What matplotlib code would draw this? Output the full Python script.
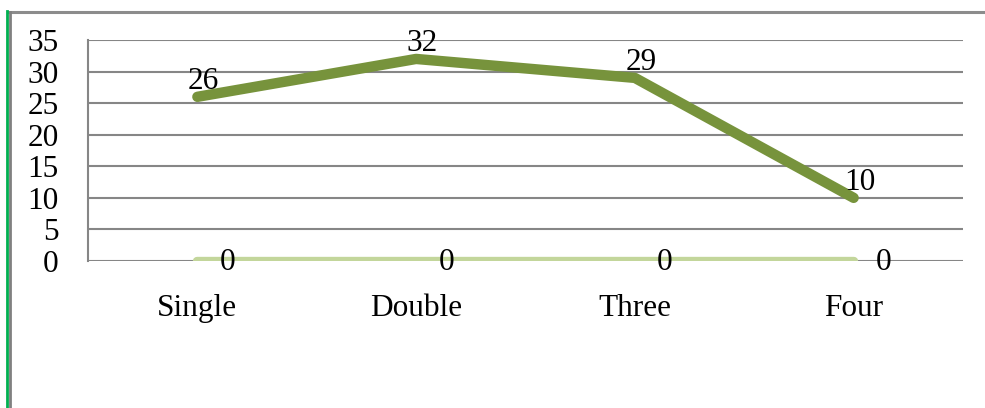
import matplotlib
matplotlib.use("Agg")
import matplotlib.pyplot as plt
from matplotlib.lines import Line2D

categories = ["Single", "Double", "Three", "Four"]
series_main = [26, 32, 29, 10]
series_zero = [0, 0, 0, 0]
y_ticks = [0, 5, 10, 15, 20, 25, 30, 35]

plt.rcParams["font.family"] = ["Liberation Serif", "DejaVu Serif"]

W, H = 985, 408
fig = plt.figure(figsize=(W / 100, H / 100), dpi=100)
ax = fig.add_axes([88 / W, 1 - 261 / H, (963 - 88) / W, (261 - 40) / H])

x = [i + 0.5 for i in range(len(categories))]

grid_c = "#868686"
for v in y_ticks:
    ax.axhline(v, color=grid_c, lw=1.5, zorder=1)

ax.plot(x, series_zero, color="#C3D69B", lw=6, solid_capstyle="round", zorder=3)
ax.plot(x, series_main, color="#77933C", lw=7.5, solid_capstyle="round",
        solid_joinstyle="round", zorder=4)

fs = 22.5
for xi, v in zip(x, series_main):
    ax.annotate(str(v), (xi, v), xytext=(6, 15), textcoords="offset pixels",
                ha="center", va="center", fontsize=fs, zorder=5)
for xi, v in zip(x, series_zero):
    ax.annotate(str(v), (xi, v), xytext=(30, -2), textcoords="offset pixels",
                ha="center", va="center", fontsize=fs, zorder=5)

ax.set_xlim(0, 4)
ax.set_ylim(0, 35)
ax.set_yticks(y_ticks)
ax.set_yticklabels([str(v) for v in y_ticks], fontsize=fs)
ax.set_xticks(x)
ax.set_xticklabels(categories, fontsize=fs)
ax.tick_params(axis="y", length=0, pad=21)
ax.tick_params(axis="x", length=0, pad=24)
for s in ["top", "right", "bottom"]:
    ax.spines[s].set_visible(False)
ax.spines["left"].set_color(grid_c)
ax.spines["left"].set_linewidth(1.5)

# frame around the figure: gray top edge, green/gray left edge
fig.add_artist(Line2D([8 / W, 1], [1 - 12 / H, 1 - 12 / H], color="#8C8C8C",
                      lw=2.2, transform=fig.transFigure))
fig.add_artist(Line2D([7 / W, 7 / W], [0, 1 - 11 / H], color="#00B050",
                      lw=2.0, transform=fig.transFigure))
fig.add_artist(Line2D([9.5 / W, 9.5 / W], [0, 1 - 12 / H], color="#808080",
                      lw=2.0, transform=fig.transFigure))

fig.savefig("out.png", dpi=100, facecolor="white")
